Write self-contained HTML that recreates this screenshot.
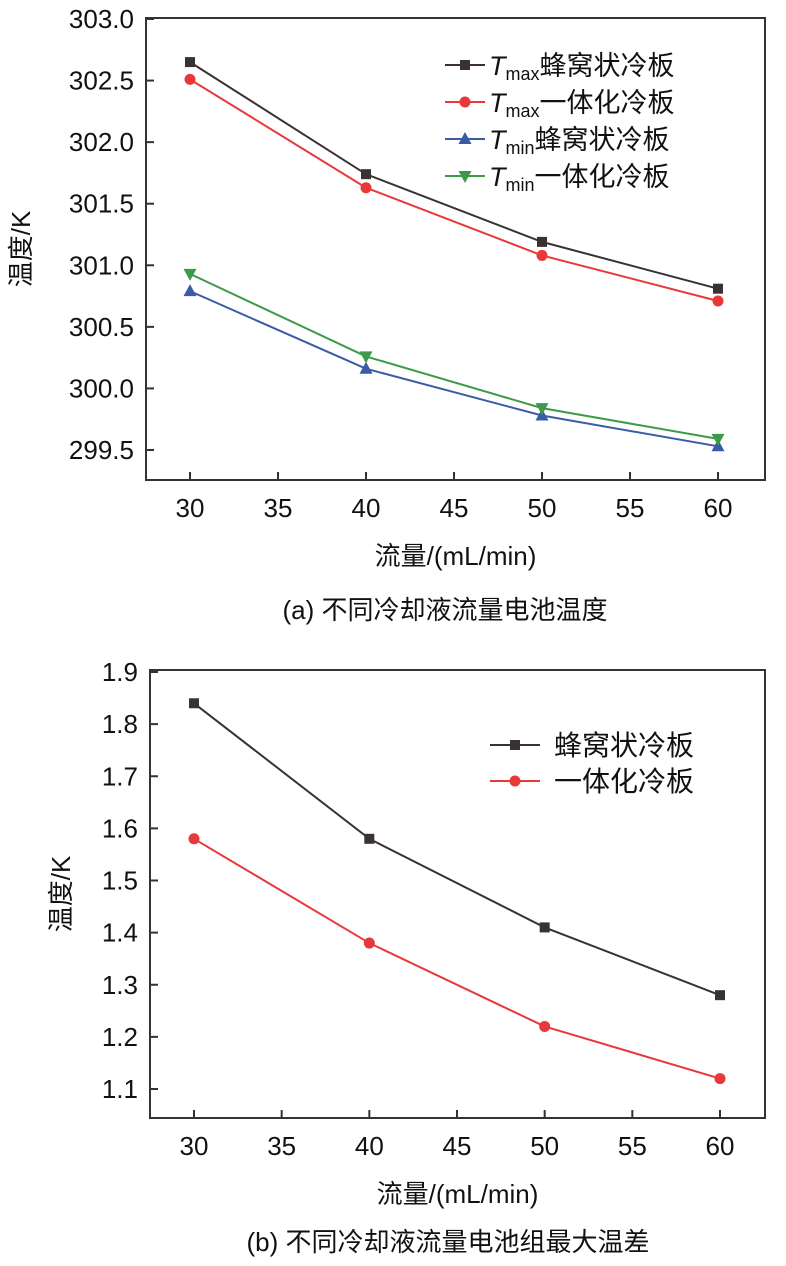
<!DOCTYPE html>
<html><head><meta charset="utf-8"><style>
body{margin:0;background:#fff;width:786px;height:1261px;overflow:hidden}
text{font-family:"Liberation Sans","Noto Sans CJK SC",sans-serif;fill:#111}
</style></head><body>
<svg id="s" width="786" height="1261" xmlns="http://www.w3.org/2000/svg"></svg>
<script>
const xCats=[30,40,50,60];
const xTicks=[30,35,40,45,50,55,60];
const aTicks=[299.5,300.0,300.5,301.0,301.5,302.0,302.5,303.0];
const aTmaxHoney=[302.65,301.74,301.19,300.81];
const aTmaxInt=[302.51,301.63,301.08,300.71];
const aTminHoney=[300.79,300.16,299.78,299.53];
const aTminInt=[300.93,300.26,299.84,299.59];
const bTicks=[1.1,1.2,1.3,1.4,1.5,1.6,1.7,1.8,1.9];
const bHoney=[1.84,1.58,1.41,1.28];
const bInt=[1.58,1.38,1.22,1.12];
const NS="http://www.w3.org/2000/svg";
const svg=document.getElementById('s');
function mk(t,a,p){const e=document.createElementNS(NS,t);for(const k in a)e.setAttribute(k,a[k]);(p||svg).appendChild(e);return e;}
function marker(type,x,y,c,g){
  if(type==='sq')return mk('rect',{x:x-5,y:y-5,width:10,height:10,fill:c},g);
  if(type==='ci')return mk('circle',{cx:x,cy:y,r:5.5,fill:c},g);
  if(type==='up')return mk('polygon',{points:`${x},${y-7} ${x-6.5},${y+5} ${x+6.5},${y+5}`,fill:c},g);
  return mk('polygon',{points:`${x},${y+7} ${x-6.5},${y-5} ${x+6.5},${y-5}`,fill:c},g);
}
function chart(o){
  const X=v=>o.x0+(v-30)/30*(o.x1-o.x0);
  const Y=v=>o.yTop+(o.vTop-v)/(o.vTop-o.vBot)*(o.yBot-o.yTop);
  const g=mk('g',{});
  
  
  const box=mk('rect',{x:o.L,y:o.T,width:o.R-o.L,height:o.B-o.T,fill:'none',stroke:'#333','stroke-width':2},g);
  
  xTicks.forEach(t=>{const x=X(t);mk('line',{x1:x,x2:x,y1:o.B,y2:o.B-8,stroke:'#333','stroke-width':2},g);
    const tx=mk('text',{x:x,y:o.B+37,'text-anchor':'middle','font-size':26},g);tx.textContent=t;
    });
  o.ticks.forEach(t=>{const y=Y(t);mk('line',{x1:o.L,x2:o.L+8,y1:y,y2:y,stroke:'#333','stroke-width':2},g);
    const tx=mk('text',{x:o.L-12,y:y+9,'text-anchor':'end','font-size':26},g);tx.textContent=t.toFixed(1);
    });
  o.series.forEach(s=>{
    const sg=mk('g',{},g);
    mk('polyline',{points:s.v.map((v,i)=>X(xCats[i])+','+Y(v)).join(' '),fill:'none',stroke:s.c,'stroke-width':2},sg);
    s.v.forEach((v,i)=>{const m=marker(s.m,X(xCats[i]),Y(v),s.c,sg);});
  });
  o.legend.forEach((l,i)=>{const y=o.ly+i*o.ld;
    const lg=mk('g',{},g);
    mk('line',{x1:o.lx,x2:o.lx+o.lw,y1:y,y2:y,stroke:l.c,'stroke-width':2},lg);
    marker(l.m,o.lx+o.lw/2,y,l.c,lg);
    const t=mk('text',{x:o.lx+o.lw+o.lg,y:y+10,'font-size':o.lfs},lg);t.innerHTML=l.t;});
  const yt=mk('text',{x:0,y:0,'font-size':26,'text-anchor':'middle',transform:`translate(${o.ytx},${(o.T+o.B)/2}) rotate(-90)`},g);
  yt.textContent='温度/K';
  const xt=mk('text',{x:(o.L+o.R)/2,y:o.B+85,'font-size':26,'text-anchor':'middle'},g);
  xt.textContent='流量/(mL/min)';
  const cp=mk('text',{x:o.cx,y:o.cy,'font-size':26,'text-anchor':'middle'},g);
  cp.textContent=o.cap;
}
const sub=(a)=>`<tspan font-style="italic">T</tspan><tspan font-size="18" dy="5">${a}</tspan><tspan dy="-5">`;
chart({name:'chart-a-temperature',L:146,T:18,R:765,B:480,x0:190,x1:718,yTop:19,yBot:450,vTop:303,vBot:299.5,ticks:aTicks,
 series:[{name:'tmax-honeycomb',v:aTmaxHoney,c:'#3a3232',m:'sq'},{name:'tmax-integrated',v:aTmaxInt,c:'#e8383a',m:'ci'},
 {name:'tmin-honeycomb',v:aTminHoney,c:'#3b5ba8',m:'up'},{name:'tmin-integrated',v:aTminInt,c:'#3d9a4a',m:'dn'}],
 legend:[{c:'#3a3232',m:'sq',t:sub('max')+'蜂窝状冷板</tspan>'},{c:'#e8383a',m:'ci',t:sub('max')+'一体化冷板</tspan>'},
 {c:'#3b5ba8',m:'up',t:sub('min')+'蜂窝状冷板</tspan>'},{c:'#3d9a4a',m:'dn',t:sub('min')+'一体化冷板</tspan>'}],
 lx:445,ly:65,ld:37,lw:40,lg:4,lfs:27,ytx:30,cx:445,cy:619,cap:'(a) 不同冷却液流量电池温度'});
chart({name:'chart-b-max-temp-diff',L:150,T:670,R:765,B:1118,x0:194,x1:720,yTop:672,yBot:1089,vTop:1.9,vBot:1.1,ticks:bTicks,
 series:[{name:'honeycomb',v:bHoney,c:'#3a3232',m:'sq'},{name:'integrated',v:bInt,c:'#e8383a',m:'ci'}],
 legend:[{c:'#3a3232',m:'sq',t:'蜂窝状冷板'},{c:'#e8383a',m:'ci',t:'一体化冷板'}],
 lx:490,ly:745,ld:36,lw:50,lg:14,lfs:28,ytx:70,cx:448,cy:1251,cap:'(b) 不同冷却液流量电池组最大温差'});
</script>
</body></html>
